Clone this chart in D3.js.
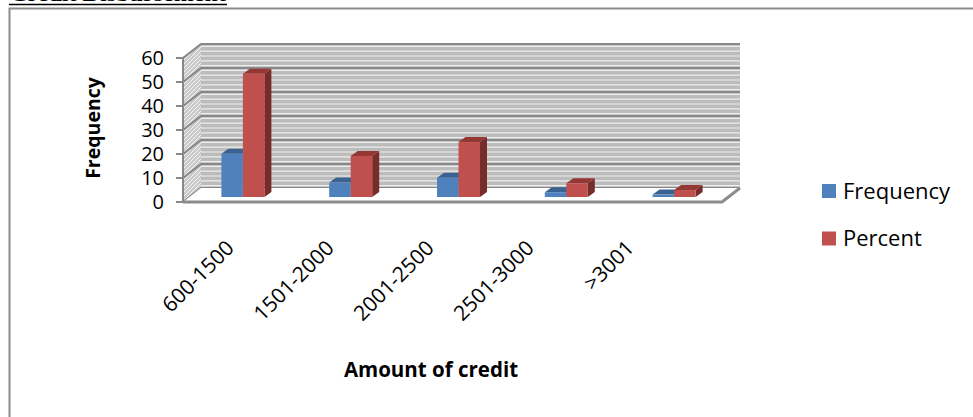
<!DOCTYPE html>
<html>
<head>
<meta charset="utf-8">
<script src="https://cdn.jsdelivr.net/npm/d3@7"></script>
<style>
  body { margin: 0; background: #fff; }
  svg { display: block; }
</style>
</head>
<body>
<div id="chart"></div>
<script>
// chart values
const categories = ["600-1500", "1501-2000", "2001-2500", "2501-3000", ">3001"];
const seriesNames = ["Frequency", "Percent"];
const frequency = [18, 6, 8, 2, 1];
const percent = [51.4, 17.1, 22.9, 5.7, 2.9];
const yTicks = [0, 10, 20, 30, 40, 50, 60];

const colors = {
    Frequency: { front: "#4f81bd", top: "#3a6391", side: "#2f5378" },
    Percent: { front: "#c0504d", top: "#953735", side: "#772c2a" }
};

const width = 973, height = 417;
const font = "Open Sans";
const svg = d3.select("#chart").append("svg")
    .attr("width", width).attr("height", height);

// the 3d box: front plane and offset to the back wall
const left = 183, right = 722;
const DX = 18, DY = -14;
const y = d3.scaleLinear().domain([0, 60]).range([202, 58]);
const x = d3.scaleBand().domain(categories).range([left, right]);
const xs = d3.scaleBand().domain(seriesNames).range([-21.5, 21.5]);
// bars stand a bit behind the front edge
const barOff = [6, -5], barDepth = [7, -5];

// page bits: clipped heading and the frame
svg.append("text")
    .attr("x", 10).attr("y", 1)
    .attr("font-family", "Liberation Serif")
    .attr("font-weight", "bold")
    .attr("font-size", 19)
    .attr("textLength", 216).attr("lengthAdjust", "spacingAndGlyphs")
    .text("Credit Disbursement");
svg.append("line")
    .attr("x1", 9).attr("x2", 227).attr("y1", 4.5).attr("y2", 4.5)
    .attr("stroke", "#000").attr("stroke-width", 1.5);
svg.append("rect")
    .attr("x", 9.5).attr("y", 8.5).attr("width", 990).attr("height", 430)
    .attr("fill", "none").attr("stroke", "#8c8c8c").attr("stroke-width", 2);

// side wall pattern
const defs = svg.append("defs");
const pat = defs.append("pattern").attr("id", "hatch")
    .attr("width", 4).attr("height", 4).attr("patternUnits", "userSpaceOnUse");
pat.append("rect").attr("width", 4).attr("height", 4).attr("fill", "#cacaca");
pat.append("path").attr("d", "M0,4 L4,0").attr("stroke", "#f2f2f2").attr("stroke-width", 1);

const g = svg.append("g");

// back wall
g.append("rect")
    .attr("x", left + DX).attr("y", y(60) + DY)
    .attr("width", right - left).attr("height", y(0) - y(60))
    .attr("fill", "#bcbcbc");
const minor = d3.range(1, 60, 2);
g.selectAll(".minor").data(minor).join("line")
    .attr("class", "minor")
    .attr("x1", left + DX).attr("x2", right + DX)
    .attr("y1", d => y(d) + DY).attr("y2", d => y(d) + DY)
    .attr("stroke", "#eeeeee").attr("stroke-width", 1.2);

// left wall
g.append("path")
    .attr("d", `M${left},${y(0)} L${left},${y(60)} L${left + DX},${y(60) + DY} L${left + DX},${y(0) + DY} Z`)
    .attr("fill", "url(#hatch)");

// major gridlines on both walls
g.selectAll(".major").data(yTicks).join("path")
    .attr("class", "major")
    .attr("d", d => `M${left},${y(d)} L${left + DX},${y(d) + DY} L${right + DX},${y(d) + DY}`)
    .attr("fill", "none").attr("stroke", "#888").attr("stroke-width", 2.2);

// floor
g.append("path")
    .attr("d", `M${left},${y(0)} L${right},${y(0)} L${right + DX},${y(0) + DY} L${left + DX},${y(0) + DY} Z`)
    .attr("fill", "#fff");
g.append("path")
    .attr("d", `M${left},${y(0)} L${right},${y(0)} L${right + DX},${y(0) + DY}`)
    .attr("fill", "none").attr("stroke", "#8c8c8c").attr("stroke-width", 3);

// front value axis
g.append("line")
    .attr("x1", left).attr("x2", left).attr("y1", y(0)).attr("y2", y(60))
    .attr("stroke", "#888").attr("stroke-width", 2);
g.selectAll(".tick").data(yTicks).join("line")
    .attr("class", "tick")
    .attr("x1", left - 7).attr("x2", left).attr("y1", d => y(d)).attr("y2", d => y(d))
    .attr("stroke", "#888").attr("stroke-width", 2);
g.selectAll(".tlabel").data(yTicks).join("text")
    .attr("class", "tlabel")
    .attr("x", 164).attr("y", d => y(d)).attr("dy", "0.36em")
    .attr("text-anchor", "end")
    .attr("font-family", font).attr("font-size", 20)
    .text(d => d);

// bars
const bars = [];
categories.forEach((c, i) => {
    bars.push({ c, s: "Frequency", v: frequency[i] });
    bars.push({ c, s: "Percent", v: percent[i] });
});
const bg = g.selectAll(".bar").data(bars).join("g").attr("class", "bar");
bg.each(function (d) {
    const el = d3.select(this);
    const x0 = x(d.c) + x.bandwidth() / 2 + xs(d.s) + barOff[0];
    const x1 = x0 + xs.bandwidth();
    const yb = y(0) + barOff[1];
    const yt = y(d.v) + barOff[1];
    const [ddx, ddy] = barDepth;
    const col = colors[d.s];
    el.append("path")
        .attr("d", `M${x1},${yb} L${x1},${yt} L${x1 + ddx},${yt + ddy} L${x1 + ddx},${yb + ddy} Z`)
        .attr("fill", col.side);
    el.append("path")
        .attr("d", `M${x0},${yt} L${x1},${yt} L${x1 + ddx},${yt + ddy} L${x0 + ddx},${yt + ddy} Z`)
        .attr("fill", col.top);
    el.append("rect")
        .attr("x", x0).attr("y", yt).attr("width", x1 - x0).attr("height", yb - yt)
        .attr("fill", col.front);
});

// category labels
const xl = d3.scaleBand().domain(categories).range([183, 683]);
svg.selectAll(".clabel").data(categories).join("text")
    .attr("class", "clabel")
    .attr("transform", d => `translate(${xl(d) + xl.bandwidth() / 2 - 3},${244}) rotate(-45)`)
    .attr("text-anchor", "end")
    .attr("dy", "0.35em")
    .attr("font-family", font).attr("font-size", 21)
    .text(d => d);

// axis titles
svg.append("text")
    .attr("transform", "translate(100,128) rotate(-90)")
    .attr("text-anchor", "middle")
    .attr("font-family", font).attr("font-weight", "bold").attr("font-size", 19.5)
    .text("Frequency");
svg.append("text")
    .attr("x", 431).attr("y", 377)
    .attr("text-anchor", "middle")
    .attr("font-family", font).attr("font-weight", "bold").attr("font-size", 20.5)
    .text("Amount of credit");

// legend
const lg = svg.selectAll(".legend").data(seriesNames).join("g")
    .attr("class", "legend")
    .attr("transform", (d, i) => `translate(822,${184 + i * 47.5})`);
lg.append("rect").attr("width", 14).attr("height", 14)
    .attr("fill", d => colors[d].front);
lg.append("text")
    .attr("x", 21).attr("y", 14.5)
    .attr("font-family", font).attr("font-size", 22)
    .text(d => d);
</script>
</body>
</html>
